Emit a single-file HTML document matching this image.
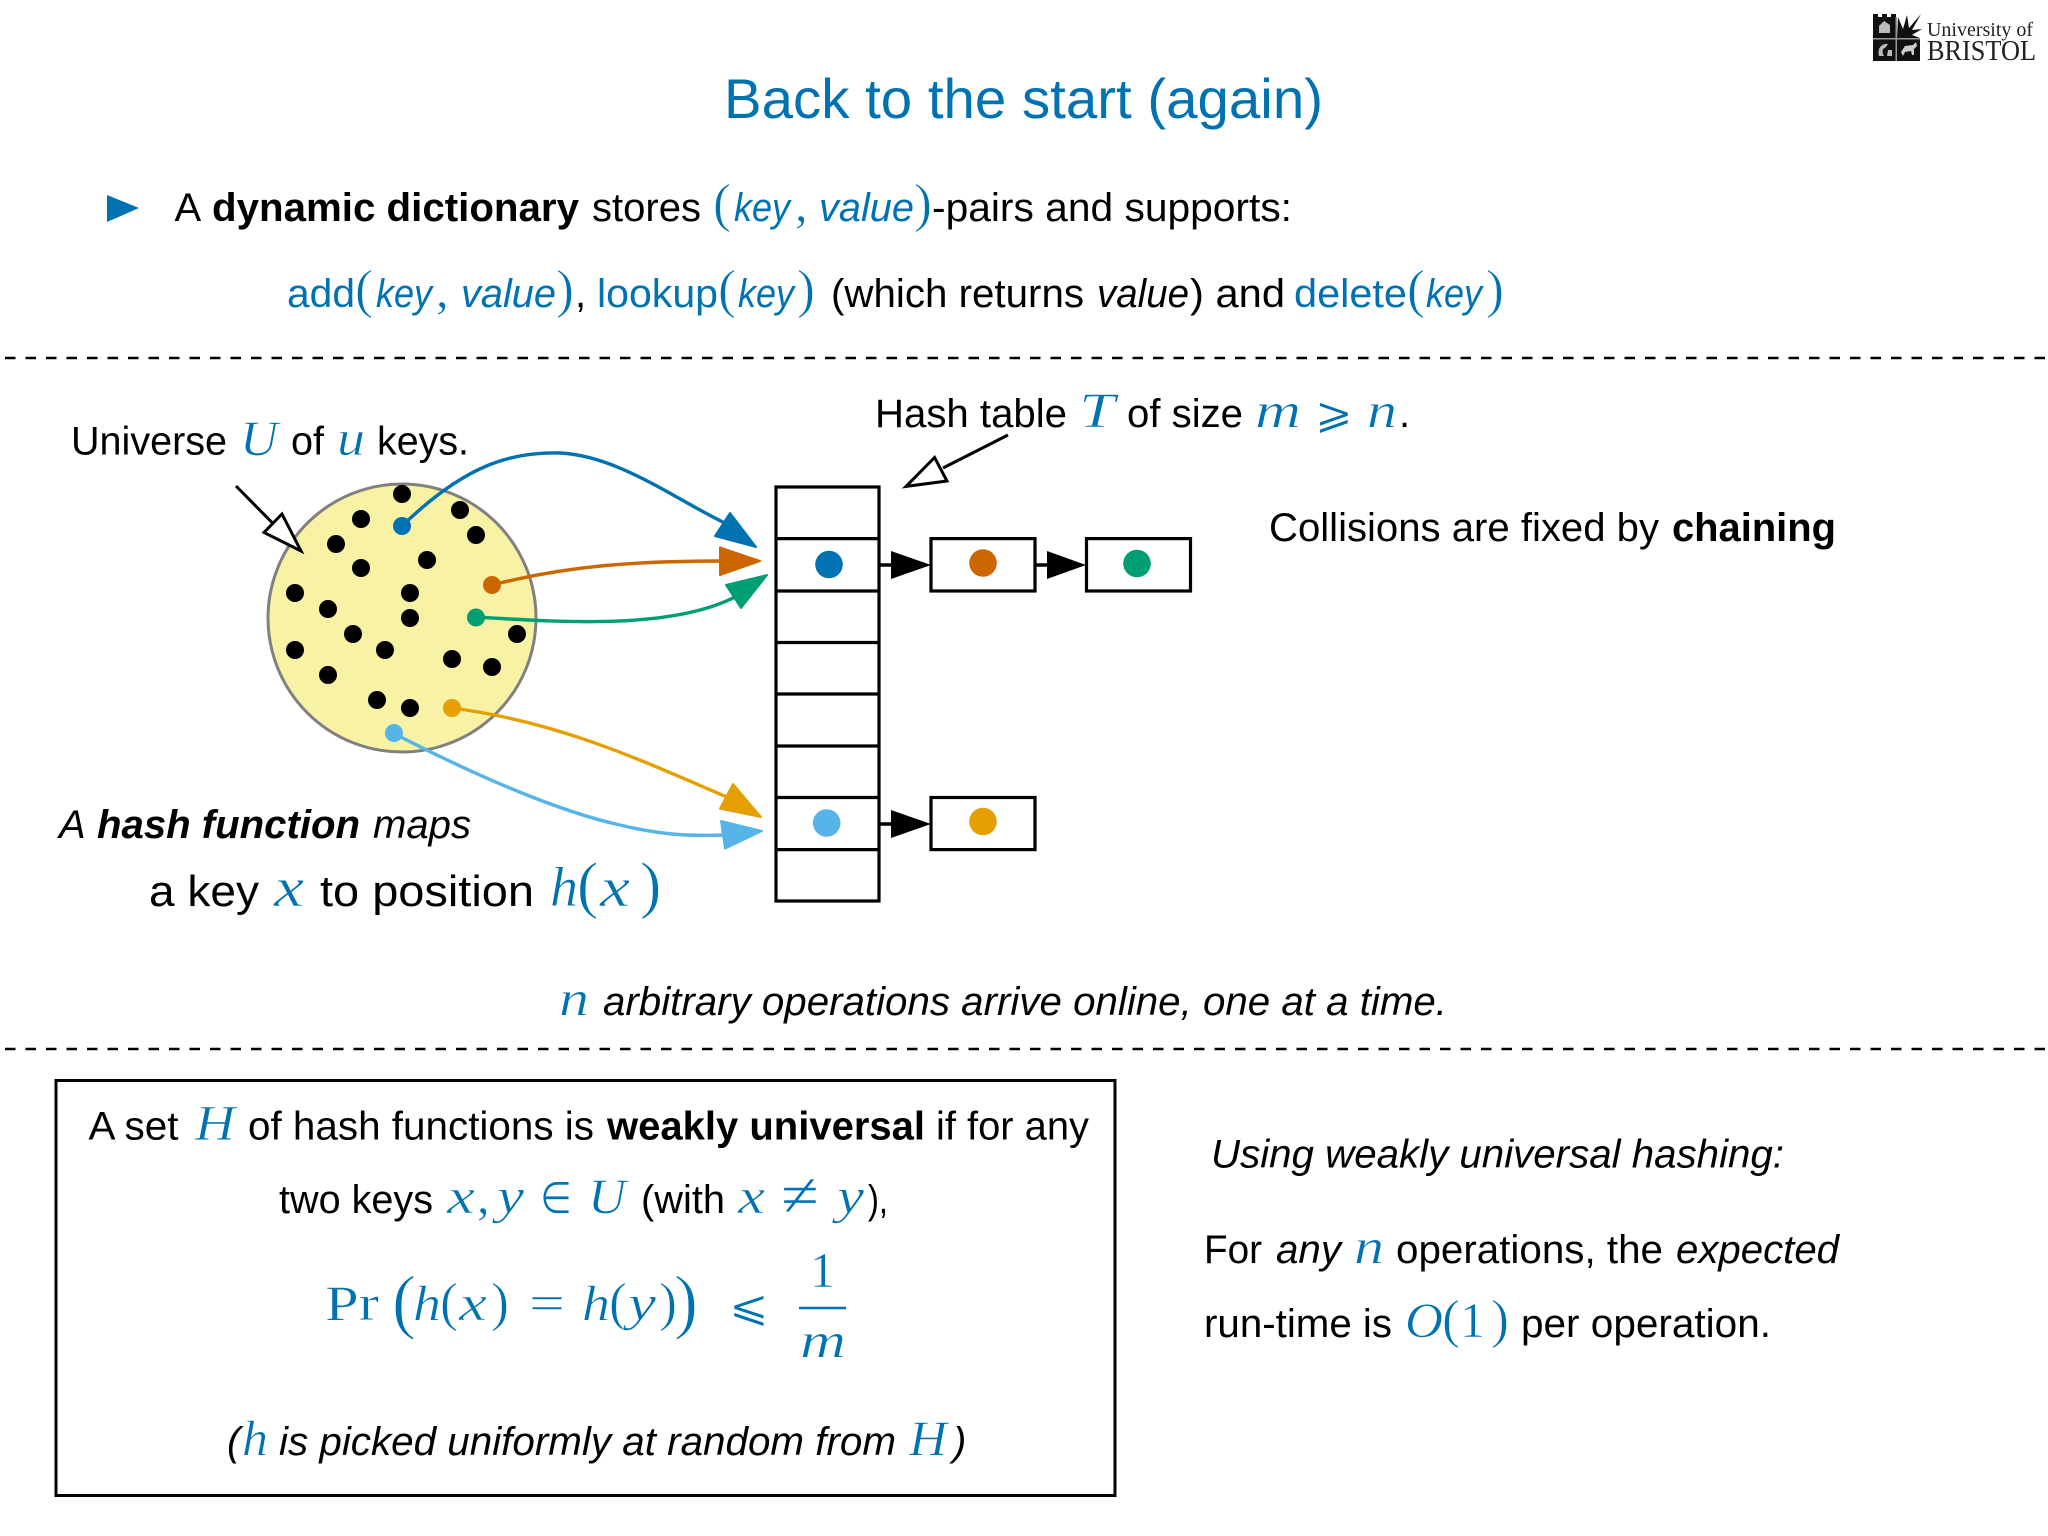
<!DOCTYPE html>
<html><head><meta charset="utf-8"><style>
html,body{margin:0;padding:0;background:#fff;width:2048px;height:1536px;overflow:hidden}
svg{display:block}
text{font-family:"Liberation Sans",sans-serif;font-size:40px;fill:#000}
.b{font-weight:700}.i{font-style:italic}
.c{fill:#0072B2}
.m{font-family:"Liberation Serif",serif;font-style:italic;fill:#0072B2;font-size:50px;stroke:#fff;stroke-width:.6px}
.r{font-family:"Liberation Serif",serif;fill:#0072B2;font-size:50px;stroke:#fff;stroke-width:.5px}
.p{font-family:"Liberation Serif",serif;fill:#0072B2;font-size:54px;stroke:#fff;stroke-width:.7px}
.y{font-family:"DejaVu Sans",sans-serif;fill:#0072B2;font-size:44px;stroke:#fff;stroke-width:.6px}
</style></head><body>
<svg width="2048" height="1536" viewBox="0 0 2048 1536" xmlns="http://www.w3.org/2000/svg">
<!-- logo -->
<g>
<rect x="1873" y="17" width="47" height="44" fill="#111"/>
<path d="M1896 14h24v24h-24z" fill="#fff"/>
<path d="M1897 38L1898 17L1903 29L1907 15L1909 28L1921 14L1912 30L1922 29L1912 35L1920 38Z" fill="#111"/>
<path d="M1873 14h5v4h4v-4h5v4h4v-4h5v24h-23z" fill="#111"/>
<rect x="1873" y="38" width="47" height="1.5" fill="#999"/><rect x="1895.5" y="17" width="1.5" height="44" fill="#999"/>
<path d="M1879 33v-7l5-5 6 4v8z" fill="#bbb"/>
<path d="M1879 56c-2-8 3-13 9-12l-3 4c-3 0-3 5-1 8zM1888 50h4v6h-5z" fill="#bbb"/>
<path d="M1901 52l4-6 8-1 3-3 1 4-3 3v6h-2l-1-4-6 1-2 4z" fill="#ccc"/>
<text x="1927" y="36" textLength="106" lengthAdjust="spacingAndGlyphs" style="font-family:'Liberation Serif',serif;font-size:20px;fill:#222">University of</text>
<text x="1927" y="60" textLength="109" lengthAdjust="spacingAndGlyphs" style="font-family:'Liberation Serif',serif;font-size:29px;fill:#222">BRISTOL</text>
</g>
<!-- title -->
<text class="c" x="724" y="118" textLength="599" lengthAdjust="spacingAndGlyphs" style="font-size:56px">Back to the start (again)</text>
<polygon points="107,195 139,208 107,222" fill="#0072B2"/>
<!-- line 1 -->
<text x="174.5" y="221">A</text>
<text class="b" x="212" y="221" textLength="367" lengthAdjust="spacingAndGlyphs">dynamic dictionary</text>
<text x="592" y="221" textLength="109" lengthAdjust="spacingAndGlyphs">stores</text>
<text class="p" x="713" y="221">(</text>
<text class="c i" x="734" y="221" textLength="56" lengthAdjust="spacingAndGlyphs">key</text>
<text class="r" x="795" y="221">,</text>
<text class="c i" x="819" y="221" textLength="95" lengthAdjust="spacingAndGlyphs">value</text>
<text class="p" x="914" y="221">)</text>
<text x="932" y="221" textLength="360" lengthAdjust="spacingAndGlyphs">-pairs and supports:</text>
<!-- line 2 -->
<text class="c" x="287" y="307" textLength="68" lengthAdjust="spacingAndGlyphs">add</text>
<text class="p" x="355" y="307">(</text>
<text class="c i" x="376" y="307" textLength="56" lengthAdjust="spacingAndGlyphs">key</text>
<text class="r" x="436" y="307">,</text>
<text class="c i" x="461" y="307" textLength="95" lengthAdjust="spacingAndGlyphs">value</text>
<text class="p" x="556" y="307">)</text>
<text x="575" y="307">,</text>
<text class="c" x="597" y="307" textLength="121" lengthAdjust="spacingAndGlyphs">lookup</text>
<text class="p" x="718" y="307">(</text>
<text class="c i" x="738" y="307" textLength="56" lengthAdjust="spacingAndGlyphs">key</text>
<text class="p" x="797" y="307">)</text>
<text x="831" y="307" textLength="253" lengthAdjust="spacingAndGlyphs">(which returns</text>
<text class="i" x="1097" y="307" textLength="92" lengthAdjust="spacingAndGlyphs">value</text>
<text x="1190" y="307" textLength="95" lengthAdjust="spacingAndGlyphs">) and</text>
<text class="c" x="1294" y="307" textLength="113" lengthAdjust="spacingAndGlyphs">delete</text>
<text class="p" x="1407" y="307">(</text>
<text class="c i" x="1426" y="307" textLength="56" lengthAdjust="spacingAndGlyphs">key</text>
<text class="p" x="1486" y="307">)</text>
<!-- dashes -->
<path d="M5 358H2048M5 1049H2048" stroke="#000" stroke-width="2.6" stroke-dasharray="10.5 10"/>
<!-- universe -->
<text x="71" y="454.5" textLength="156" lengthAdjust="spacingAndGlyphs">Universe</text>
<text class="m" x="240" y="455" textLength="38" lengthAdjust="spacingAndGlyphs">U</text>
<text x="291" y="454.5" textLength="33" lengthAdjust="spacingAndGlyphs">of</text>
<text class="m" x="337" y="455" textLength="28" lengthAdjust="spacingAndGlyphs">u</text>
<text x="377" y="454.5" textLength="92" lengthAdjust="spacingAndGlyphs">keys.</text>
<!-- hash table label -->
<text x="875" y="427" textLength="192" lengthAdjust="spacingAndGlyphs">Hash table</text>
<text class="m" x="1079" y="427" textLength="36" lengthAdjust="spacingAndGlyphs">T</text>
<text x="1127" y="427" textLength="116" lengthAdjust="spacingAndGlyphs">of size</text>
<text class="m" x="1255" y="427" textLength="46" lengthAdjust="spacingAndGlyphs">m</text>
<text class="y" x="1315" y="428" textLength="38" lengthAdjust="spacingAndGlyphs">⩾</text>
<text class="m" x="1367" y="427" textLength="30" lengthAdjust="spacingAndGlyphs">n</text>
<text x="1399" y="427">.</text>
<text x="1269" y="541" textLength="390" lengthAdjust="spacingAndGlyphs">Collisions are fixed by</text>
<text class="b" x="1672" y="541" textLength="164" lengthAdjust="spacingAndGlyphs">chaining</text>
<!-- universe circle -->
<circle cx="402" cy="618" r="134" fill="#F8F2A4" stroke="#808080" stroke-width="3"/>
<g fill="#000">
<circle cx="402" cy="494" r="9"/><circle cx="361" cy="519" r="9"/><circle cx="460" cy="510" r="9"/><circle cx="476" cy="535" r="9"/><circle cx="336" cy="544" r="9"/><circle cx="427" cy="560" r="9"/><circle cx="361" cy="568" r="9"/><circle cx="295" cy="593" r="9"/><circle cx="410" cy="593" r="9"/><circle cx="328" cy="609" r="9"/><circle cx="410" cy="618" r="9"/><circle cx="517" cy="634" r="9"/><circle cx="353" cy="634" r="9"/><circle cx="295" cy="650" r="9"/><circle cx="385" cy="650" r="9"/><circle cx="452" cy="659" r="9"/><circle cx="492" cy="667" r="9"/><circle cx="328" cy="675" r="9"/><circle cx="377" cy="700" r="9"/><circle cx="410" cy="708" r="9"/>
</g>
<circle cx="402" cy="526" r="9" fill="#0072B2"/>
<circle cx="492" cy="585" r="9" fill="#CC6600"/>
<circle cx="476" cy="617.5" r="9" fill="#009E73"/>
<circle cx="452" cy="708" r="9" fill="#E69F00"/>
<circle cx="394" cy="733" r="9" fill="#56B4E9"/>
<!-- coloured arrows -->
<g fill="none" stroke-width="3.4">
<path d="M402 526C465 465 510 452 560 453C620 456 675 500 733 527" stroke="#0072B2"/>
<path d="M492 585C570 565 640 561 725 561" stroke="#CC6600"/>
<path d="M476 617C560 622 670 630 735 597" stroke="#009E73"/>
<path d="M452 708C560 722 640 760 727 797" stroke="#E69F00"/>
<path d="M393 733C480 778 561 812 620 825C665 836 695 836 725 835" stroke="#56B4E9"/>
</g>
<polygon points="730,513 715,536 756,547" fill="#0072B2" stroke="#0072B2" stroke-width="2" stroke-linejoin="round"/>
<polygon points="720,547.5 720,575 760,561" fill="#CC6600" stroke="#CC6600" stroke-width="2" stroke-linejoin="round"/>
<polygon points="726,585 741,608 767,575" fill="#009E73" stroke="#009E73" stroke-width="2" stroke-linejoin="round"/>
<polygon points="733,784 720,808.6 761,817" fill="#E69F00" stroke="#E69F00" stroke-width="2" stroke-linejoin="round"/>
<polygon points="721,821 725,848.6 762,831" fill="#56B4E9" stroke="#56B4E9" stroke-width="2" stroke-linejoin="round"/>
<!-- hollow arrows -->
<g stroke="#000" stroke-width="3" stroke-linejoin="miter">
<path d="M236 486L273 523.5" fill="none"/>
<polygon points="301,551 282,514 264,532.5" fill="#fff"/>
<path d="M1008 435L943 468" fill="none"/>
<polygon points="906,486.4 934.6,457.5 947,481" fill="#fff"/>
</g>
<!-- table -->
<g fill="#fff" stroke="#000" stroke-width="3.2">
<rect x="776" y="487" width="103" height="414"/>
<path d="M776 538.6H879M776 591H879M776 642.5H879M776 694H879M776 746H879M776 797.5H879M776 849.6H879" fill="none"/>
<rect x="931" y="538.6" width="104" height="52.4"/>
<rect x="1086.5" y="538.6" width="104" height="52.4"/>
<rect x="931" y="797.5" width="104" height="52.1"/>
</g>
<circle cx="829" cy="564.5" r="13.8" fill="#0072B2"/>
<circle cx="983" cy="563" r="13.8" fill="#CC6600"/>
<circle cx="1137" cy="563.5" r="13.8" fill="#009E73"/>
<circle cx="826.7" cy="823" r="13.8" fill="#56B4E9"/>
<circle cx="983" cy="821.5" r="13.8" fill="#E69F00"/>
<!-- black arrows -->
<path d="M879 565H895M1035 565H1050M879 824H895" stroke="#000" stroke-width="3.4" fill="none"/>
<polygon points="891,551 891,579 931,565" fill="#000"/>
<polygon points="1047,551 1047,579 1086,565" fill="#000"/>
<polygon points="891,810 891,838 931,824" fill="#000"/>
<!-- hash function -->
<text class="i" x="59" y="838">A</text>
<text class="b i" x="97" y="838" textLength="263" lengthAdjust="spacingAndGlyphs">hash function</text>
<text class="i" x="373" y="838" textLength="98" lengthAdjust="spacingAndGlyphs">maps</text>
<text x="149" y="906" textLength="110" lengthAdjust="spacingAndGlyphs" style="font-size:44px">a key</text>
<text class="m" x="274" y="906" textLength="30" lengthAdjust="spacingAndGlyphs" style="font-size:56px">x</text>
<text x="320" y="906" textLength="214" lengthAdjust="spacingAndGlyphs" style="font-size:44px">to position</text>
<text class="m" x="550" y="906" textLength="28" lengthAdjust="spacingAndGlyphs" style="font-size:56px">h</text>
<text class="p" x="577" y="906" style="font-size:64px">(</text>
<text class="m" x="600" y="906" textLength="30" lengthAdjust="spacingAndGlyphs" style="font-size:56px">x</text>
<text class="p" x="640" y="906" style="font-size:64px">)</text>
<!-- n arbitrary -->
<text class="m" x="559" y="1015" textLength="30" lengthAdjust="spacingAndGlyphs">n</text>
<text class="i" x="603" y="1015" textLength="844" lengthAdjust="spacingAndGlyphs">arbitrary operations arrive online, one at a time.</text>
<!-- box -->
<rect x="56" y="1080.5" width="1059" height="415" fill="#fff" stroke="#000" stroke-width="3"/>
<text x="88.5" y="1139.5" textLength="90" lengthAdjust="spacingAndGlyphs">A set</text>
<text class="m" x="195" y="1139.5" textLength="40" lengthAdjust="spacingAndGlyphs">H</text>
<text x="248" y="1139.5" textLength="346" lengthAdjust="spacingAndGlyphs">of hash functions is</text>
<text class="b" x="607" y="1139.5" textLength="318" lengthAdjust="spacingAndGlyphs">weakly universal</text>
<text x="936" y="1139.5" textLength="153" lengthAdjust="spacingAndGlyphs">if for any</text>
<text x="279" y="1213" textLength="154" lengthAdjust="spacingAndGlyphs">two keys</text>
<text class="m" x="447" y="1213" textLength="28" lengthAdjust="spacingAndGlyphs">x</text>
<text class="r" x="477" y="1213">,</text>
<text class="m" x="497" y="1213" textLength="27" lengthAdjust="spacingAndGlyphs">y</text>
<text class="y" x="540" y="1213" textLength="32" lengthAdjust="spacingAndGlyphs">∈</text>
<text class="m" x="588" y="1213" textLength="38" lengthAdjust="spacingAndGlyphs">U</text>
<text x="641" y="1213" textLength="84" lengthAdjust="spacingAndGlyphs">(with</text>
<text class="m" x="738" y="1213" textLength="27" lengthAdjust="spacingAndGlyphs">x</text>
<text class="r" x="781" y="1216" textLength="38" lengthAdjust="spacingAndGlyphs" style="font-size:62px">≠</text>
<text class="m" x="837" y="1213" textLength="27" lengthAdjust="spacingAndGlyphs">y</text>
<text x="868" y="1213" textLength="20" lengthAdjust="spacingAndGlyphs">),</text>
<!-- formula -->
<text class="r" x="325" y="1320" textLength="54" lengthAdjust="spacingAndGlyphs">Pr</text>
<text class="p" x="392" y="1325" style="font-size:72px;stroke-width:1px">(</text>
<text class="m" x="413" y="1320" textLength="28" lengthAdjust="spacingAndGlyphs">h</text>
<text class="p" x="440" y="1320">(</text>
<text class="m" x="459" y="1320" textLength="28" lengthAdjust="spacingAndGlyphs">x</text>
<text class="p" x="491" y="1320">)</text>
<text class="r" x="529" y="1320" textLength="36" lengthAdjust="spacingAndGlyphs">=</text>
<text class="m" x="582" y="1320" textLength="28" lengthAdjust="spacingAndGlyphs">h</text>
<text class="p" x="609" y="1320">(</text>
<text class="m" x="628" y="1320" textLength="28" lengthAdjust="spacingAndGlyphs">y</text>
<text class="p" x="659" y="1320">)</text>
<text class="p" x="674" y="1325" style="font-size:72px;stroke-width:1px">)</text>
<text class="y" x="729" y="1321" textLength="40" lengthAdjust="spacingAndGlyphs">⩽</text>
<text class="r" x="810" y="1287">1</text>
<path d="M799 1308H846" stroke="#0072B2" stroke-width="2.5"/>
<text class="m" x="800" y="1357" textLength="46" lengthAdjust="spacingAndGlyphs">m</text>
<text class="i" x="227" y="1455">(</text>
<text class="m" x="242" y="1455" textLength="26" lengthAdjust="spacingAndGlyphs">h</text>
<text class="i" x="279" y="1455" textLength="617" lengthAdjust="spacingAndGlyphs">is picked uniformly at random from</text>
<text class="m" x="909" y="1455" textLength="38" lengthAdjust="spacingAndGlyphs">H</text>
<text class="i" x="953" y="1455">)</text>
<!-- right -->
<text class="i" x="1211" y="1167.5" textLength="573" lengthAdjust="spacingAndGlyphs">Using weakly universal hashing:</text>
<text x="1204" y="1263" textLength="58" lengthAdjust="spacingAndGlyphs">For</text>
<text class="i" x="1276" y="1263" textLength="65" lengthAdjust="spacingAndGlyphs">any</text>
<text class="m" x="1354" y="1263" textLength="30" lengthAdjust="spacingAndGlyphs">n</text>
<text x="1396" y="1263" textLength="267" lengthAdjust="spacingAndGlyphs">operations, the</text>
<text class="i" x="1676" y="1263" textLength="163" lengthAdjust="spacingAndGlyphs">expected</text>
<text x="1204" y="1337" textLength="188" lengthAdjust="spacingAndGlyphs">run-time is</text>
<text class="m" x="1405" y="1337" textLength="38" lengthAdjust="spacingAndGlyphs">O</text>
<text class="p" x="1442" y="1337">(</text>
<text class="r" x="1460" y="1337">1</text>
<text class="p" x="1491" y="1337">)</text>
<text x="1521" y="1337" textLength="250" lengthAdjust="spacingAndGlyphs">per operation.</text>
</svg>
</body></html>
